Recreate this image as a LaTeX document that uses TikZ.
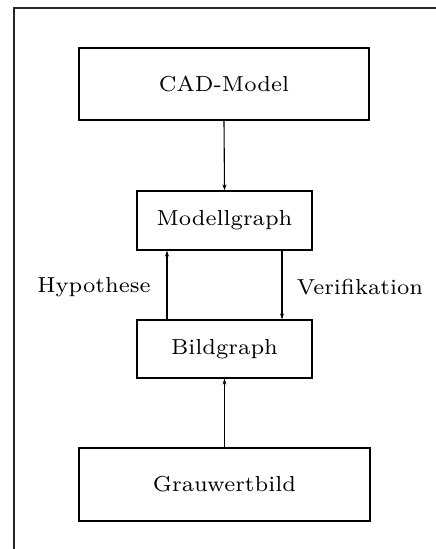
\documentclass[tikz,border=0pt]{standalone}
\usepackage{graphicx}
\usetikzlibrary{arrows.meta}
\newcommand\mylbl[1]{\scalebox{3.1}{\fontsize{7}{8}\selectfont #1}}
\begin{document}
\begin{tikzpicture}[x=1pt,y=-1pt,
  box/.style={draw, line width=1.2pt, inner sep=0pt, anchor=center},
  arr/.style={line width=1.1pt, -{Stealth[length=6pt,width=4pt]}},
  lab/.style={inner sep=0pt, anchor=center}]
\useasboundingbox (0,0) rectangle (436,549);
\draw[line width=1.1pt, black!85] (14,549) -- (14,8) -- (436,8);
\node[box, minimum width=290pt, minimum height=72pt] (cad) at (224,84) {\mylbl{CAD-Model}};
\node[box, minimum width=175pt, minimum height=59pt] (mg) at (224.5,220.5) {\mylbl{Modellgraph}};
\node[box, minimum width=175pt, minimum height=58pt] (bg) at (224.5,349) {\mylbl{Bildgraph}};
\node[box, minimum width=291pt, minimum height=73pt] (gw) at (224.5,484.5) {\mylbl{Grauwertbild}};
\node[lab] (hyp) at (94,287) {\mylbl{Hypothese}};
\node[lab] (ver) at (360,287) {\mylbl{Verifikation}};
\draw[arr] (cad.south) -- (mg.north);
\draw[arr] ([xshift=-57.5pt]bg.north) -- ([xshift=-57.5pt]mg.south);
\draw[arr] ([xshift=57.5pt]mg.south) -- ([xshift=57.5pt]bg.north);
\draw[arr] (gw.north) -- (bg.south);
\end{tikzpicture}
\end{document}
